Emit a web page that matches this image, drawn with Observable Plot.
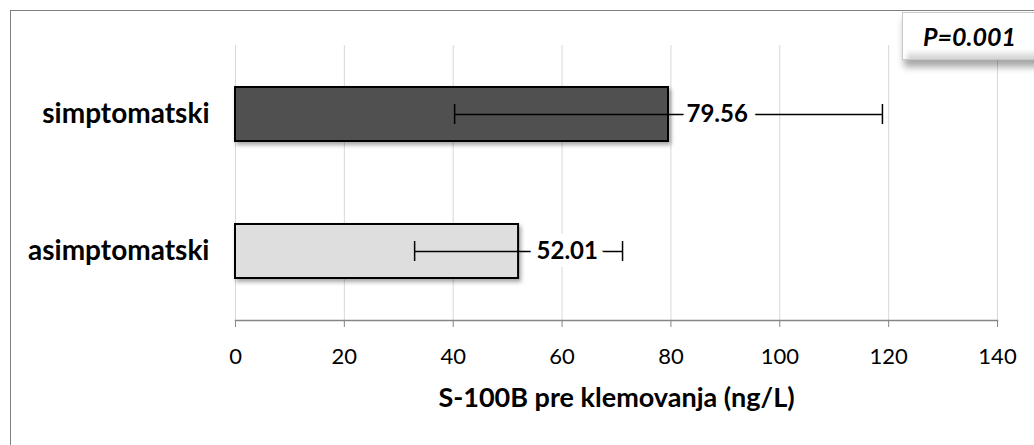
<!DOCTYPE html>
<html><head><meta charset="utf-8">
<script src="https://cdn.jsdelivr.net/npm/d3@7"></script>
<script src="https://cdn.jsdelivr.net/npm/@observablehq/plot@0.6"></script>
<style>
body{margin:0;background:#fff;font-family:Lato,sans-serif}
#wrap{position:relative;width:1034px;height:445px;overflow:hidden}
#frame{position:absolute;left:10px;top:10px;width:1100px;height:500px;border:1px solid #7f7f7f}
#chart{position:absolute;left:0;top:0}
#pbox{position:absolute;left:902px;top:12px;width:150px;height:48px;box-sizing:border-box;background:#fff;
 border:1px solid #c8c8c8;
 box-shadow: inset 4px 4px 4px rgba(255,255,255,1), inset -5px -5px 6px rgba(0,0,0,0.18), 2px 7px 7px rgba(0,0,0,0.35);
 font:italic bold 25px Lato,sans-serif;line-height:46px;padding-left:20px;color:#000}
g[aria-label="bar"]{filter:drop-shadow(2px 3px 2px rgba(0,0,0,0.35))}
</style></head><body>
<div id="wrap"><div id="frame"></div><div id="chart"></div><div id="pbox"></div></div>
<script>
const groups = ["simptomatski", "asimptomatski"];
const means = [79.56, 52.01];
const sds = [39.3, 19.1];
const fills = ["#505050", "#dedede"];
const pLabel = "P=0.001";
const xTicks = [0, 20, 40, 60, 80, 100, 120, 140];
const xTitle = "S-100B pre klemovanja (ng/L)";

const data = groups.map((g, i) => ({
  g, m: means[i], lo: means[i] - sds[i], hi: means[i] + sds[i], fill: fills[i], label: means[i].toFixed(2)
}));

document.getElementById("pbox").textContent = pLabel;

const chart = Plot.plot({
  width: 1034, height: 445,
  marginLeft: 235, marginRight: 37, marginTop: 45, marginBottom: 125,
  style: {fontFamily: "Lato, sans-serif", color: "#000", background: "transparent", overflow: "visible"},
  x: {domain: [0, 140]},
  y: {domain: groups, paddingInner: 0.607, paddingOuter: 0.3035},
  color: {type: "identity"},
  marks: [
    Plot.gridX(xTicks, {stroke: "#d9d9d9", strokeOpacity: 1, strokeWidth: 1}),
    Plot.frame({anchor: "bottom", stroke: "#868686", strokeWidth: 1.5}),
    Plot.axisX(xTicks, {tickSize: 7, tickPadding: 21, stroke: "#868686", fill: "#000", fontSize: 22, label: null}),
    Plot.axisY({tickSize: 0, tickPadding: 26, fontSize: 28, fontWeight: "bold", fill: "#000", label: null}),
    Plot.text([xTitle], {frameAnchor: "bottom", dy: 86, fontSize: 27, fontWeight: "bold", fill: "#000"}),
    Plot.barX(data, {x: "m", y: "g", fill: "fill", stroke: "#000", strokeWidth: 2}),
    Plot.ruleY(data, {x1: "lo", x2: "hi", y: "g", stroke: "#000", strokeWidth: 1.5}),
    Plot.tickX(data, {x: "lo", y: "g", insetTop: 17, insetBottom: 17, stroke: "#000", strokeWidth: 1.5}),
    Plot.tickX(data, {x: "hi", y: "g", insetTop: 17, insetBottom: 17, stroke: "#000", strokeWidth: 1.5}),
    Plot.text(data, {x: "m", y: "g", text: "label", dx: 18, textAnchor: "start", fontSize: 24, fontWeight: "bold",
      fill: "#000", stroke: "white", strokeWidth: 16, strokeOpacity: 1})
  ]
});
document.getElementById("chart").append(chart);
</script>
</body></html>
